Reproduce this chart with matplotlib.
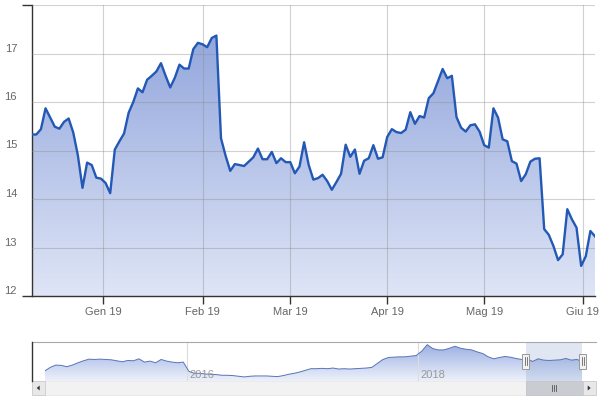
import matplotlib
matplotlib.use("Agg")
import matplotlib.pyplot as plt
import matplotlib.dates as mdates
from matplotlib.colors import LinearSegmentedColormap
from matplotlib.patches import Rectangle, Polygon
from matplotlib.lines import Line2D
from matplotlib.transforms import ScaledTranslation
import numpy as np
import pandas as pd

plt.rcParams['font.family'] = ['Liberation Sans', 'DejaVu Sans']

# daily closes on NYSE trading days, starting 7 Dec 2018
start_day = '2018-12-07'
market_holidays = ['2018-12-25', '2019-01-01', '2019-01-21', '2019-02-18',
                   '2019-04-19', '2019-05-27']
closes = [15.33, 15.33, 15.44, 15.87, 15.68, 15.49, 15.45, 15.59, 15.66, 15.37,
          14.90, 14.23, 14.75, 14.70, 14.44, 14.42, 14.33, 14.12, 15.02, 15.19,
          15.35, 15.78, 16.00, 16.28, 16.20, 16.46, 16.54, 16.63, 16.80, 16.54,
          16.30, 16.50, 16.77, 16.69, 16.69, 17.09, 17.22, 17.19, 17.13, 17.32,
          17.37, 15.25, 14.89, 14.58, 14.72, 14.70, 14.68, 14.77, 14.86, 15.04,
          14.82, 14.82, 14.97, 14.74, 14.84, 14.76, 14.76, 14.53, 14.67, 15.17,
          14.70, 14.40, 14.43, 14.50, 14.37, 14.19, 14.35, 14.52, 15.12, 14.87,
          15.02, 14.52, 14.79, 14.84, 15.11, 14.83, 14.86, 15.28, 15.44, 15.38,
          15.36, 15.43, 15.79, 15.55, 15.71, 15.68, 16.08, 16.18, 16.43, 16.68,
          16.49, 16.54, 15.69, 15.47, 15.39, 15.52, 15.54, 15.39, 15.11, 15.06,
          15.87, 15.68, 15.23, 15.19, 14.78, 14.73, 14.37, 14.51, 14.77, 14.83,
          14.84, 13.38, 13.26, 13.03, 12.74, 12.86, 13.79, 13.58, 13.41, 12.62,
          12.82, 13.34, 13.23]
month_starts = ['2019-01-01', '2019-02-01', '2019-03-01', '2019-04-01',
                '2019-05-01', '2019-06-01']
month_names = ['Gen', 'Feb', 'Mar', 'Apr', 'Mag', 'Giu']

# navigator: whole history, roughly two samples a month
nav_start, nav_end = '2014-10-10', '2019-06-05'
nav_values = [11.04, 12.36, 13.20, 13.08, 12.60, 13.20, 14.04, 14.76, 15.36, 15.24,
              15.36, 15.24, 15.12, 14.76, 14.40, 14.88, 14.76, 15.48, 14.28, 14.64,
              14.04, 15.24, 14.64, 14.28, 14.04, 14.28, 10.92, 10.20, 10.20, 9.96,
              9.84, 9.72, 9.48, 9.48, 9.36, 9.12, 8.88, 9.12, 9.24, 9.24,
              9.24, 9.12, 9.00, 9.36, 9.84, 10.20, 10.68, 11.28, 11.88, 11.88,
              12.00, 11.88, 12.12, 11.76, 11.88, 11.76, 11.88, 12.00, 12.12, 12.36,
              13.80, 15.24, 15.96, 16.08, 16.20, 16.20, 16.44, 16.68, 18.24, 20.64,
              19.20, 18.72, 18.72, 19.32, 20.04, 19.32, 18.96, 18.72, 18.00, 17.40,
              16.20, 15.48, 15.96, 16.32, 16.08, 15.60, 15.24, 15.48, 14.52, 15.48,
              15.00, 14.88, 15.00, 15.12, 15.60, 15.00, 15.24, 14.40]
nav_years = ['2016-01-01', '2018-01-01']

W, H = 600, 400


def fig_rect(x0, y0, x1, y1):
    # pixel box (top-left origin) -> figure fraction rect
    return [x0 / W, 1 - y1 / H, (x1 - x0) / W, (y1 - y0) / H]


def gradient_area(ax, x, y, base, top, c_top, c_bot):
    cmap = LinearSegmentedColormap.from_list('area', [c_bot, c_top])
    grad = np.linspace(0, 1, 256).reshape(-1, 1)
    im = ax.imshow(grad, cmap=cmap, aspect='auto', origin='lower',
                   extent=[x[0], x[-1], base, top], zorder=1)
    poly = ax.fill_between(x, y, base, facecolor='none', edgecolor='none')
    im.set_clip_path(poly.get_paths()[0], transform=ax.transData)


fig = plt.figure(figsize=(6, 4), dpi=100)

# ---- main chart ----
dates = pd.bdate_range(start=start_day, periods=len(closes), freq='C',
                       holidays=market_holidays)
idx = np.arange(len(closes))

ax = fig.add_axes(fig_rect(31.7, 5, 595, 296))
gradient_area(ax, idx, closes, 12, 18, '#8aa0da', '#dfe5f6')
ax.plot(idx, closes, color='#2359b5', lw=1.7, zorder=4, solid_joinstyle='round')
ax.set_xlim(0, idx[-1])
ax.set_ylim(12, 18)

# ordinal axis: month ticks fall between trading days
day_ns = dates.values.astype('int64')
tick_pos = np.interp(pd.to_datetime(month_starts).values.astype('int64'), day_ns, idx)
ax.set_xticks(tick_pos)
ax.set_xticklabels([f'{m} 19' for m in month_names])
ax.tick_params(axis='x', length=6, width=1, color='#333', pad=2,
               labelsize=8, labelcolor='#666')

ax.set_yticks(range(12, 19))
ax.set_yticklabels([str(v) for v in range(12, 18)] + [''])
ax.tick_params(axis='y', length=7.2, width=1, color='#333', pad=3.4,
               labelsize=8, labelcolor='#666')
for t in ax.yaxis.get_major_ticks()[1:-1]:
    t.tick1line.set_visible(False)
lift = ScaledTranslation(0, 6 / 100, fig.dpi_scale_trans)
for lab in ax.get_yticklabels():
    lab.set_transform(lab.get_transform() + lift)

ax.set_axisbelow(False)
ax.grid(True, color='#8c8c8c', alpha=0.4, lw=0.8)
for s in ['top', 'right']:
    ax.spines[s].set_visible(False)
for s in ['left', 'bottom']:
    ax.spines[s].set_color('#333')
    ax.spines[s].set_linewidth(1)

# ---- navigator ----
nav = fig.add_axes(fig_rect(44.7, 342, 582.5, 381))
nav_dates = pd.date_range(nav_start, nav_end, periods=len(nav_values))
xn = mdates.date2num(nav_dates)
gradient_area(nav, xn, nav_values, 7.4, 21.6, '#97ace2', '#edf1fa')
nav.plot(xn, nav_values, color='#5a74b8', lw=0.7, zorder=3)
nav.set_xlim(xn[0], xn[-1])
nav.set_ylim(7.4, 21.6)
year_num = mdates.date2num(pd.to_datetime(nav_years))
nav.set_xticks(year_num)
nav.set_yticks([])
nav.grid(axis='x', color='#dcdcdc', lw=0.8)
nav.tick_params(length=0, labelbottom=False)
for s in nav.spines.values():
    s.set_visible(False)
for yr, xv in zip(nav_years, year_num):
    nav.annotate(yr[:4], xy=(xv, 0), xycoords=('data', 'axes fraction'),
                 xytext=(3, 3.5), textcoords='offset pixels', va='baseline',
                 ha='left', fontsize=8, color='#999')

sel0 = mdates.date2num(dates[0])
sel1 = mdates.date2num(dates[-1])
nav.axvspan(sel0, sel1, color='#6685c2', alpha=0.2, lw=0, zorder=2)

# pixel x of the selection edges
px0 = nav.transData.transform((sel0, 0))[0]
px1 = nav.transData.transform((sel1, 0))[0]


def fig_line(xs, ys, **kw):
    fig.add_artist(Line2D([v / W for v in xs], [1 - v / H for v in ys],
                          transform=fig.transFigure, **kw))


def fig_box(x0, y0, x1, y1, **kw):
    r = fig_rect(x0, y0, x1, y1)
    fig.add_artist(Rectangle((r[0], r[1]), r[2], r[3],
                             transform=fig.transFigure, **kw))


# outline
fig_line([31.7, 596], [342, 342], color='#a8a8a8', lw=0.8)
fig_line([31.7, 31.7], [342, 381], color='#333', lw=1)

# scrollbar
fig_box(31.7, 381, 596, 395, facecolor='#f2f2f2', edgecolor='#e8e8e8', lw=0.6)
fig_box(px0, 381, px1, 395, facecolor='#c9cdd2', edgecolor='#c0c4c8', lw=0.6)
mid = (px0 + px1) / 2
for dx in (-2, 0, 2):
    fig_line([mid + dx, mid + dx], [385, 391], color='#555', lw=0.6)
fig_box(31.7, 381, 44.7, 395, facecolor='#e8e8e8', edgecolor='#cccccc', lw=0.6)
fig_box(582.5, 381, 596, 395, facecolor='#e8e8e8', edgecolor='#cccccc', lw=0.6)
for cx, sgn in ((38.2, -1), (589.2, 1)):
    pts = [((cx + sgn * 1.5) / W, 1 - 388 / H),
           ((cx - sgn * 1.5) / W, 1 - 385.5 / H),
           ((cx - sgn * 1.5) / W, 1 - 390.5 / H)]
    fig.add_artist(Polygon(pts, closed=True, transform=fig.transFigure,
                           facecolor='#333', edgecolor='none'))

# handles
for ex in (px0, px1):
    fig_box(ex - 3.5, 353.5, ex + 3.5, 368.5, facecolor='#f2f2f2',
            edgecolor='#999', lw=0.7)
    for dx in (-1, 1):
        fig_line([ex + dx, ex + dx], [357, 365], color='#666', lw=0.6)

fig.savefig('out.png', dpi=100)
